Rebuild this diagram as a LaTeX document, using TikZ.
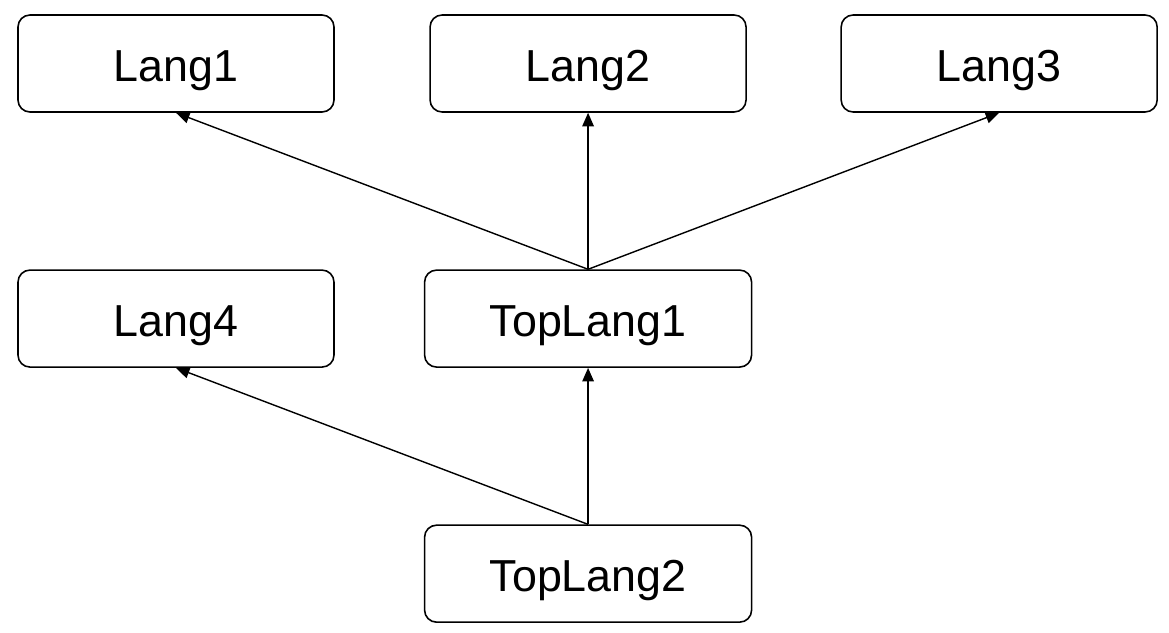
\documentclass[tikz,border=0pt]{standalone}
\usepackage{fontspec}
\setmainfont{Liberation Sans}
\usepackage{tikz}
\usetikzlibrary{arrows.meta,positioning}

\begin{document}
\begin{tikzpicture}[
      lang/.style={draw, line width=0.9pt, rounded corners=0.24cm,
                   minimum width=6.32cm, minimum height=1.94cm,
                   text height=0.72cm, text depth=0pt,
                   font=\fontsize{25.5pt}{29pt}\selectfont, inner sep=0pt},
      top/.style={lang, minimum width=6.54cm},
      arr/.style={-{Triangle[length=0.27cm,width=0.23cm]}, line width=0.8pt}
  ]
    \useasboundingbox (0,0) rectangle (23.38,-12.64);
    \node[lang] at (3.52,-1.27) (l1) {Lang1};
    \node[lang, right=1.89cm of l1] (l2) {Lang2};
    \node[lang, right=1.87cm of l2] (l3) {Lang3};
    \node[lang, below=3.13cm of l1] (l4) {Lang4};
    \node[top, below=3.13cm of l2]  (t1) {TopLang1};
    \node[top, below=3.13cm of t1]  (t2) {TopLang2};
    \draw[arr] (t1.north)--(l1.south); \draw[arr] (t1.north)--(l2.south);
    \draw[arr] (t1.north)--(l3.south);
    \draw[arr] (t2.north)--(l4.south); \draw[arr] (t2.north)--(t1.south);
  \end{tikzpicture}
\end{document}
